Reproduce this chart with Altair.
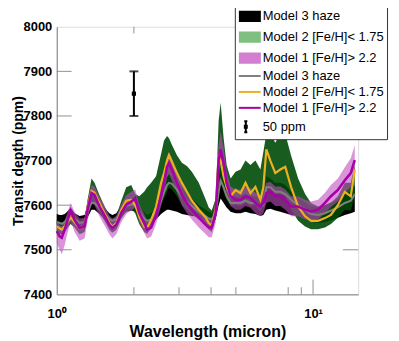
import altair as alt
import pandas as pd

# ---------------- data ----------------
wavelength = [1.000, 1.027, 1.046, 1.074, 1.093, 1.133, 1.174, 1.228, 1.284, 1.319,
              1.367, 1.404, 1.468, 1.535, 1.605, 1.648, 1.708, 1.786, 1.867, 1.953,
              2.024, 2.098, 2.193, 2.253, 2.335, 2.441, 2.553, 2.622, 2.693, 2.742,
              2.816, 2.944, 3.078, 3.219, 3.366, 3.583, 3.815, 3.918, 4.024, 4.170,
              4.283, 4.360, 4.479, 4.600, 4.768, 4.985, 5.213, 5.450, 5.699, 5.959,
              6.231, 6.400, 6.574, 6.813, 7.124, 7.449, 7.789, 8.217, 8.748, 9.311,
              9.823, 10.457, 11.131, 11.743, 12.500, 13.306, 14.038, 14.548]

# Model 1 [Fe/H] > 2.2 (purple line)
m1_line = [7542, 7530, 7527, 7545, 7560, 7588, 7567, 7549, 7552, 7590,
           7627, 7623, 7597, 7577, 7556, 7549, 7556, 7583, 7601, 7608,
           7616, 7583, 7560, 7545, 7550, 7578, 7620, 7650, 7686, 7694,
           7679, 7650, 7623, 7605, 7590, 7572, 7556, 7550, 7550, 7582,
           7701, 7725, 7694, 7650, 7620, 7612, 7612, 7620, 7616, 7605,
           7597, 7605, 7627, 7630, 7620, 7620, 7612, 7597, 7597, 7590,
           7586, 7590, 7605, 7620, 7634, 7656, 7672, 7701]
# Model 2 [Fe/H] < 1.75 (orange line)
m2_line = [7552, 7548, 7545, 7552, 7560, 7572, 7562, 7548, 7552, 7595,
           7632, 7628, 7605, 7582, 7560, 7552, 7560, 7590, 7610, 7612,
           7600, 7575, 7552, 7549, 7567, 7597, 7650, 7672, 7700, 7712,
           7697, 7672, 7650, 7630, 7610, 7590, 7572, 7560, 7555, 7590,
           7708, 7700, 7663, 7641, 7620, 7634, 7627, 7650, 7627, 7641,
           7612, 7640, 7725, 7700, 7672, 7680, 7686, 7640, 7597, 7575,
           7565, 7565, 7571, 7578, 7600, 7630, 7620, 7680]
# Model 3 haze (gray line)
m3_line = [7562, 7560, 7558, 7562, 7567, 7580, 7570, 7560, 7562, 7585,
           7605, 7605, 7592, 7580, 7568, 7565, 7568, 7585, 7598, 7602,
           7600, 7585, 7570, 7565, 7568, 7585, 7610, 7628, 7645, 7650,
           7648, 7635, 7620, 7608, 7598, 7585, 7575, 7570, 7568, 7580,
           7630, 7655, 7640, 7620, 7605, 7605, 7605, 7610, 7605, 7605,
           7598, 7600, 7640, 7640, 7630, 7630, 7625, 7612, 7600, 7590,
           7580, 7578, 7582, 7588, 7595, 7605, 7610, 7625]

# Model 3 haze band (black)
m3_low = [7556, 7554, 7553, 7555, 7558, 7566, 7560, 7554, 7555, 7572,
          7590, 7590, 7580, 7568, 7558, 7555, 7558, 7572, 7585, 7588,
          7586, 7572, 7558, 7555, 7557, 7568, 7580, 7585, 7590, 7590,
          7588, 7585, 7580, 7578, 7576, 7574, 7566, 7562, 7560, 7568,
          7600, 7615, 7605, 7595, 7585, 7582, 7582, 7585, 7582, 7580,
          7576, 7578, 7590, 7592, 7588, 7585, 7582, 7578, 7575, 7568,
          7563, 7560, 7562, 7566, 7572, 7578, 7582, 7585]
m3_high = [7580, 7578, 7578, 7580, 7584, 7594, 7582, 7576, 7578, 7600,
           7622, 7622, 7606, 7594, 7582, 7578, 7582, 7600, 7612, 7616,
           7614, 7600, 7584, 7578, 7582, 7600, 7630, 7648, 7665, 7670,
           7665, 7650, 7638, 7626, 7616, 7600, 7590, 7585, 7582, 7596,
           7660, 7690, 7670, 7640, 7622, 7620, 7620, 7626, 7620, 7620,
           7614, 7620, 7665, 7660, 7650, 7650, 7645, 7630, 7618, 7606,
           7598, 7596, 7600, 7606, 7614, 7626, 7630, 7645]
# Model 2 band (green)
m2_low = [7540, 7536, 7534, 7540, 7546, 7558, 7550, 7535, 7540, 7575,
          7605, 7605, 7585, 7565, 7545, 7538, 7545, 7570, 7588, 7592,
          7582, 7558, 7540, 7536, 7548, 7570, 7600, 7615, 7630, 7640,
          7635, 7620, 7600, 7590, 7580, 7568, 7556, 7545, 7540, 7570,
          7640, 7650, 7630, 7612, 7598, 7600, 7598, 7605, 7598, 7600,
          7585, 7600, 7640, 7640, 7625, 7625, 7620, 7590, 7565, 7552,
          7546, 7546, 7550, 7558, 7572, 7590, 7588, 7620]
m2_high = [7566, 7562, 7560, 7566, 7575, 7590, 7578, 7564, 7568, 7612,
           7660, 7650, 7622, 7598, 7576, 7568, 7576, 7610, 7640, 7645,
           7625, 7620, 7630, 7640, 7650, 7665, 7715, 7745, 7755, 7750,
           7735, 7712, 7695, 7688, 7675, 7650, 7612, 7595, 7588, 7615,
           7790, 7830, 7750, 7690, 7660, 7675, 7680, 7700, 7690, 7700,
           7680, 7720, 7760, 7760, 7740, 7760, 7760, 7710, 7660, 7625,
           7605, 7597, 7600, 7605, 7620, 7650, 7650, 7690]
# Model 1 band (violet)
m1_low = [7515, 7500, 7490, 7510, 7530, 7565, 7540, 7520, 7525, 7565,
          7605, 7600, 7575, 7555, 7535, 7525, 7535, 7562, 7580, 7588,
          7595, 7562, 7538, 7525, 7530, 7558, 7598, 7628, 7662, 7670,
          7655, 7628, 7600, 7582, 7568, 7550, 7535, 7528, 7528, 7560,
          7675, 7700, 7668, 7625, 7598, 7590, 7590, 7598, 7594, 7582,
          7575, 7582, 7605, 7608, 7598, 7598, 7590, 7575, 7575, 7568,
          7564, 7568, 7582, 7596, 7608, 7628, 7642, 7670]
m1_high = [7565, 7555, 7552, 7565, 7578, 7605, 7585, 7570, 7572, 7610,
           7645, 7642, 7618, 7598, 7576, 7570, 7576, 7602, 7622, 7630,
           7635, 7602, 7580, 7565, 7570, 7598, 7640, 7672, 7710, 7720,
           7705, 7672, 7645, 7626, 7612, 7594, 7578, 7572, 7572, 7605,
           7735, 7765, 7730, 7675, 7642, 7635, 7635, 7642, 7638, 7628,
           7620, 7628, 7650, 7652, 7642, 7642, 7635, 7620, 7620, 7612,
           7608, 7612, 7628, 7645, 7660, 7685, 7705, 7735]

# 50 ppm error bar
err_x = [2.0]
err_center = [7850]
err_low = [7800]
err_high = [7900]

# legend entries
band_labels = ["Model 3 haze", "Model 2 [Fe/H]< 1.75", "Model 1 [Fe/H]> 2.2"]
line_labels = ["Model 3 haze", "Model 2 [Fe/H]< 1.75", "Model 1 [Fe/H]> 2.2"]
err_label = "50 ppm"

# axis ticks
x_label_ticks = [1, 10]
x_minor_ticks = [2, 3, 4, 5, 8, 9]
x_major_inner = [10]
y_ticks = [7400, 7500, 7600, 7700, 7800, 7900, 8000]
y_inner_ticks = [7500, 7600, 7800, 7900]

# ---------------- styling ----------------
FONT = "Liberation Sans"
legend_keys = (["B:" + s for s in band_labels] + ["L:" + s for s in line_labels]
               + ["E:" + err_label])
legend_colors = ["#000000", "#7fbf7f", "#d27fd2", "#808080", "#edb120", "#a600a6", "#000000"]

band_df = pd.DataFrame({"wl": wavelength,
                        "m3lo": m3_low, "m3hi": m3_high,
                        "m2lo": m2_low, "m2hi": m2_high,
                        "m1lo": m1_low, "m1hi": m1_high})

xscale = alt.Scale(type="log", domain=[1, 15], nice=False)
yscale = alt.Scale(domain=[7400, 8000], nice=False, zero=False)

xaxis = alt.Axis(values=x_label_ticks,
                 labelExpr="datum.value == 1 ? '10\u2070' : '10\u00b9'",
                 labelFont=FONT, labelFontSize=13, labelFontWeight="bold",
                 labelColor="black", labelPadding=13, labelFlush=False,
                 ticks=False, grid=False, domainColor="#808080",
                 title="Wavelength (micron)", titleFont=FONT, titleFontSize=16,
                 titleFontWeight="bold", titleColor="black", titlePadding=3)
yaxis = alt.Axis(values=y_ticks, format="d",
                 labelFont=FONT, labelFontSize=13, labelFontWeight="bold",
                 labelColor="black", labelPadding=5,
                 ticks=False, grid=False, domainColor="#808080",
                 title="Transit depth (ppm)", titleFont=FONT, titleFontSize=14,
                 titleFontWeight="bold", titleColor="black", titlePadding=-2)


def X(field):
    return alt.X(field, type="quantitative", scale=xscale, axis=xaxis)


def Y(field):
    return alt.Y(field, type="quantitative", scale=yscale, axis=yaxis)


# legend symbol paths (unit = 5.5 px, centred 6.5 px into the entry)
rect_path = "M-0.8,-0.85H2.85V0.85H-0.8Z"
line_path = "M-1.0,0H3.0"
err_path = "M0.0,-1H0.56M0.28,-1V1M0.0,1H0.56M0.1,-0.2H0.46V0.2H0.1Z"

legend = alt.Legend(
    title=None, orient="none", legendX=179, legendY=-20, direction="vertical",
    fillColor="white", strokeColor="#333333", padding=3,
    labelFont=FONT, labelFontSize=13, labelColor="black", labelOffset=12,
    labelLimit=400, labelExpr="slice(datum.label, 2)", rowPadding=2,
    symbolSize=121, symbolStrokeWidth=2, symbolOpacity=1,
    symbolType=alt.ExprRef(expr=(
        f"slice(datum.value,0,1) == 'B' ? '{rect_path}' : "
        f"slice(datum.value,0,1) == 'L' ? '{line_path}' : '{err_path}'")),
    symbolFillColor=alt.ExprRef(expr=(
        "slice(datum.value,0,1) == 'L' ? 'transparent' : scale('color', datum.value)")),
)
color = alt.Color("key:N", scale=alt.Scale(domain=legend_keys, range=legend_colors),
                  legend=legend)

band3 = alt.Chart(band_df).mark_area(color="#000000", opacity=1).encode(
    x=X("wl"), y=Y("m3lo"), y2="m3hi")
band2 = alt.Chart(band_df).mark_area(color="#004a08", opacity=0.9).encode(
    x=X("wl"), y=Y("m2lo"), y2="m2hi")
band1 = alt.Chart(band_df).mark_area(color="#c24cc2", opacity=0.6).encode(
    x=X("wl"), y=Y("m1lo"), y2="m1hi")


def line_layer(values, key, width):
    df = pd.DataFrame({"wl": wavelength, "val": values, "key": key})
    return alt.Chart(df).mark_line(strokeWidth=width).encode(
        x=X("wl"), y=Y("val"), color=color)


line3 = line_layer(m3_line, legend_keys[3], 2)
line2 = line_layer(m2_line, legend_keys[4], 2.2)
line1 = line_layer(m1_line, legend_keys[5], 2.6)

# inward axis ticks
xt_df = pd.DataFrame({"x": x_minor_ticks, "y0": 7400, "y1": 7416})
xT_df = pd.DataFrame({"x": x_major_inner, "y0": 7400, "y1": 7433})
yt_df = pd.DataFrame({"y": y_inner_ticks, "x0": 1.0, "x1": 1.143})
yr_df = pd.DataFrame({"y": [7500], "x0": 13.07, "x1": 15})
top_df = pd.DataFrame({"x": [2], "y0": 8000, "y1": 7985})
tick_style = dict(color="#909090", strokeWidth=1)
xticks = alt.Chart(xt_df).mark_rule(**tick_style).encode(x=X("x"), y=Y("y0"), y2="y1")
xTicks = alt.Chart(xT_df).mark_rule(**tick_style).encode(x=X("x"), y=Y("y0"), y2="y1")
topticks = alt.Chart(top_df).mark_rule(**tick_style).encode(x=X("x"), y=Y("y0"), y2="y1")
yticks = alt.Chart(yt_df).mark_rule(**tick_style).encode(x=X("x0"), x2="x1", y=Y("y"))
yrticks = alt.Chart(yr_df).mark_rule(**tick_style).encode(x=X("x0"), x2="x1", y=Y("y"))

err_df = pd.DataFrame({"x": err_x, "c": err_center, "lo": err_low, "hi": err_high})
err_rule = alt.Chart(err_df).mark_rule(color="black", strokeWidth=2).encode(
    x=X("x"), y=Y("lo"), y2="hi")
err_cap_lo = alt.Chart(err_df).mark_tick(color="black", thickness=2, size=9,
                                         orient="horizontal").encode(x=X("x"), y=Y("lo"))
err_cap_hi = alt.Chart(err_df).mark_tick(color="black", thickness=2, size=9,
                                         orient="horizontal").encode(x=X("x"), y=Y("hi"))
err_dot = alt.Chart(err_df).mark_square(color="black", size=18, opacity=1).encode(
    x=X("x"), y=Y("c"))

chart = alt.layer(
    band3, band2, band1, line3, line2, line1,
    xticks, xTicks, topticks, yticks, yrticks,
    err_rule, err_cap_lo, err_cap_hi, err_dot,
).properties(
    width=303, height=269,
    autosize=alt.AutoSizeParams(type="none"),
    padding={"left": 49, "top": 18, "right": 33, "bottom": 46},
    background="white",
).configure_view(stroke=None).configure(font=FONT)

chart.save("out.html", embed_options={"renderer": "svg", "actions": False})
